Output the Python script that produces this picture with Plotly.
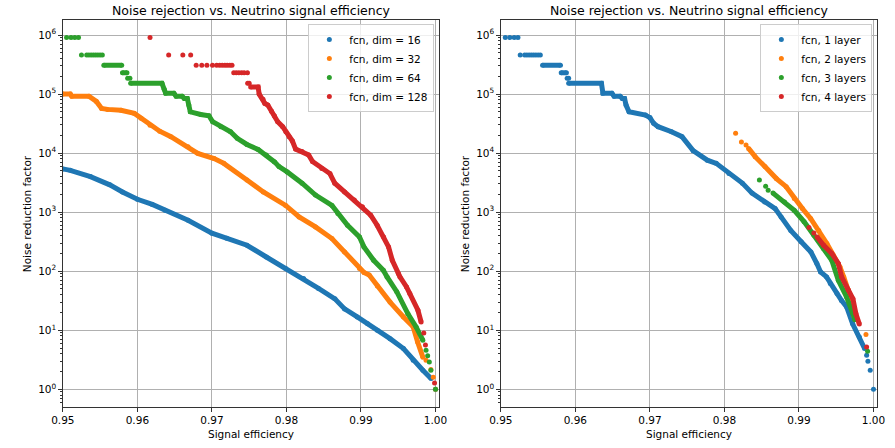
import plotly.graph_objects as go

N = None
TITLE = "Noise rejection vs. Neutrino signal efficiency"
XLABEL = "Signal efficiency"
YLABEL = "Noise reduction factor"
X_TICKS = [0.95, 0.96, 0.97, 0.98, 0.99, 1.00]
Y_EXPONENTS = [0, 1, 2, 3, 4, 5, 6]
COLORS = ["#1f77b4", "#ff7f0e", "#2ca02c", "#d62728"]

# ---------------- Left panel: hidden dimension ----------------
left_names = ["fcn, dim = 16", "fcn, dim = 32", "fcn, dim = 64", "fcn, dim = 128"]

# dense (continuous) stretches of each curve
d16_x = [0.9500, 0.9510, 0.9537, 0.9563, 0.9580, 0.9600, 0.9620, 0.9637, 0.9668, 0.9700, 0.9720,
         0.9747, 0.9773, 0.9799, 0.9823, 0.9843, 0.9865, 0.9878, 0.9895, 0.9909, 0.9922, 0.9939,
         0.9957, 0.9970, 0.9983, 0.9994]
d16_y = [5400, 5100, 4000, 2900, 2200, 1650, 1350, 1080, 730, 440, 360,
         275, 174, 111, 75, 51, 34, 23, 16.8, 12.9, 10, 7.2,
         4.9, 3.1, 2.1, 1.52]
d16_dot_x = [1.0]
d16_dot_y = [1.0]

d32_x = [0.9500, 0.9510, 0.9512, 0.9535, 0.9545, 0.9552, 0.9560, 0.9578, 0.9596, 0.9605, 0.9617,
         0.9630, 0.9645, 0.9668, 0.9681, 0.9703, 0.9716, 0.9747, 0.9769, 0.9799, 0.9817, 0.9839,
         0.9861, 0.9878, 0.9898, 0.9904, 0.9911, 0.9922, 0.9939, 0.9957, 0.9970, 0.9976, 0.9983]
d32_y = [1.0e5, 1.0e5, 9.2e4, 9.2e4, 7.5e4, 5.7e4, 5.5e4, 5.3e4, 4.7e4, 3.9e4, 2.97e4,
         2.35e4, 1.9e4, 1.28e4, 9.9e3, 8.1e3, 6.7e3, 3.5e3, 2.2e3, 1.3e3, 830, 562,
         357, 212, 111, 95, 86, 56, 30, 16.8, 11.4, 6.3, 3.5]
d32_dot_x = [0.99873, 0.99938, 0.99970, 1.0]
d32_dot_y = [3.1, 2.16, 1.6, 1.0]

d64_x = [0.9555, 0.9579, N, 0.9580, 0.9586, N, 0.9591, 0.9633, 0.9636, 0.9638, 0.9649, 0.9652,
         0.9660, 0.9663, 0.9667, 0.9669, 0.9671, 0.9685, 0.9696, 0.9701, 0.9712, 0.9725, 0.9734,
         0.9747, 0.9762, 0.9773, 0.9784, 0.9790, 0.9801, 0.9821, 0.9839, 0.9861, 0.9869, 0.9882,
         0.9898, 0.9904, 0.9917, 0.9930, 0.9935, 0.9948, 0.9963, 0.9974, 0.9983]
d64_y = [3.06e5, 3.06e5, N, 2.29e5, 2.29e5, N, 1.52e5, 1.52e5, 1.2e5, 1.03e5, 1.03e5, 9.2e4,
         9.2e4, 8.4e4, 8.4e4, 6.5e4, 5.0e4, 4.5e4, 4.3e4, 3.4e4, 2.8e4, 2.3e4, 1.78e4,
         1.4e4, 1.15e4, 9.3e3, 7.1e3, 5.9e3, 4.8e3, 3.1e3, 1.95e3, 1.3e3, 950, 600,
         380, 258, 153, 104, 80, 45, 19, 11.4, 6.8]
d64_dot_x = [0.9505, 0.9511, 0.9516, 0.9521,
             0.9525, 0.9532, 0.9535, 0.9538, 0.9541, 0.9544, 0.9547, 0.9550, 0.9553,
             0.9587, 0.9590,
             0.99873, 0.99895, 0.99917, 0.99938, 1.0]
d64_dot_y = [9.1e5, 9.1e5, 9.1e5, 9.1e5,
             4.6e5, 4.6e5, 4.6e5, 4.6e5, 4.6e5, 4.6e5, 4.6e5, 4.6e5, 4.6e5,
             1.85e5, 1.85e5,
             4.6, 3.7, 2.9, 2.1, 1.0]

d128_x = [0.9752, 0.9762, 0.97634, 0.97686, 0.9771, 0.9775, 0.9780, 0.97838, 0.97883, 0.97949,
          0.97992, 0.98036, 0.9808, 0.98123, 0.9821, 0.98298, 0.9835, 0.98474, 0.98583, 0.98648,
          0.9878, 0.98911, 0.9902, 0.9913, 0.99217, 0.99304, 0.9937, 0.9942, 0.99501, 0.99523,
          0.99611, 0.99655, 0.99764, 0.99807]
d128_y = [1.32e5, 1.32e5, 1.0e5, 8.2e4, 6.95e4, 6.5e4, 5.1e4, 4.27e4, 3.4e4, 2.8e4,
          2.3e4, 1.9e4, 1.6e4, 1.17e4, 1.06e4, 9.3e3, 7.2e3, 5.5e3, 4.5e3, 3.1e3,
          2.2e3, 1.6e3, 1.23e3, 890, 600, 380, 258, 153, 91, 80,
          54, 42, 21.8, 13.8]
d128_dot_x = [0.9617, 0.9642, 0.9661, 0.96715,
              0.96789, 0.96864, 0.96933, 0.97008, 0.97064, 0.97104, 0.97139, 0.97174, 0.97205,
              0.9724, 0.9727,
              0.97293, 0.97327, 0.97362, 0.97398, 0.97432, 0.97477,
              0.9748, 0.9750,
              0.99843, 0.99865, 0.99987]
d128_dot_y = [9.1e5, 4.6e5, 4.6e5, 4.6e5,
              3.06e5, 3.06e5, 3.06e5, 3.06e5, 3.06e5, 3.06e5, 3.06e5, 3.06e5, 3.06e5,
              3.06e5, 3.06e5,
              2.29e5, 2.29e5, 2.29e5, 2.29e5, 2.29e5, 2.29e5,
              1.52e5, 1.52e5,
              9.0, 5.6, 1.28]

# ---------------- Right panel: number of layers ----------------
right_names = ["fcn, 1 layer", "fcn, 2 layers", "fcn, 3 layers", "fcn, 4 layers"]

l1_x = [0.9556, 0.9580, N, 0.9581, 0.9588, N, 0.9591, 0.9635, 0.9637, 0.9649, 0.9652, 0.9660,
        0.9663, 0.9666, 0.9668, 0.9672, 0.9694, 0.9700, 0.9705, 0.9711, 0.9729, 0.9743, 0.9758,
        0.9777, 0.9789, 0.9806, 0.9824, 0.9837, 0.9854, 0.9868, 0.9876, 0.9889, 0.9903, 0.9916,
        0.9924, 0.9929, 0.9937, 0.9942, 0.9951, 0.9957, 0.9964, 0.9972, 0.9981, 0.9988]
l1_y = [3.06e5, 3.06e5, N, 2.29e5, 2.29e5, N, 1.52e5, 1.52e5, 1.03e5, 1.03e5, 9.2e4, 9.2e4,
        8.4e4, 8.4e4, 6.5e4, 5.0e4, 4.4e4, 4.0e4, 3.2e4, 2.8e4, 2.3e4, 1.9e4, 1.1e4,
        7.6e3, 6.7e3, 4.5e3, 3.1e3, 2.1e3, 1.49e3, 1.15e3, 830, 490, 316, 212,
        135, 97, 80, 62, 42, 32, 24.8, 12.9, 7.7, 4.9]
l1_dot_x = [0.9506, 0.9512, 0.9518, 0.9523,
            0.9526, 0.9532, 0.9535, 0.9538, 0.9541, 0.9544, 0.9547, 0.9550, 0.9553,
            0.9589, 0.9591,
            0.99908, 0.99925, 0.99956, 1.0]
l1_dot_y = [9.1e5, 9.1e5, 9.1e5, 9.1e5,
            4.6e5, 4.6e5, 4.6e5, 4.6e5, 4.6e5, 4.6e5, 4.6e5, 4.6e5, 4.6e5,
            1.85e5, 1.85e5,
            3.77, 2.98, 2.1, 1.0]

l2_x = [0.98324, 0.98412, 0.98543, 0.98697, 0.98828, 0.98937, 0.99046, 0.99156, 0.99265,
        0.99374, 0.99462, 0.9955, 0.9960, 0.9966, 0.9970, 0.9974]
l2_y = [1.2e4, 8.7e3, 5.9e3, 3.7e3, 2.7e3, 1.7e3, 1.15e3, 780, 490,
        295, 186, 118, 80, 48, 34, 17]
l2_dot_x = [0.98150, 0.98228, 0.98290, 0.99899]
l2_dot_y = [2.16e4, 1.54e4, 1.37e4, 8.5]

l3_x = [0.98652, 0.98806, 0.98937, 0.99068, 0.99200, 0.99331, 0.99440, 0.99528, 0.99637,
        0.99724, 0.99750]
l3_y = [2.1e3, 1.49e3, 1.07e3, 690, 407, 241, 153, 70, 37, 19, 15]
l3_dot_x = [0.98469, 0.98553, 0.98587, 0.99921]
l3_dot_y = [3.5e3, 2.75e3, 2.35e3, 4.4]

l4_x = [0.99243, 0.99331, 0.99440, 0.99528, 0.99572, 0.99660, 0.99724, 0.99764, 0.99810]
l4_y = [380, 275, 200, 135, 80, 48, 34, 19, 12.7]
l4_dot_x = [0.99134, 0.99200, 0.99908]
l4_dot_y = [550, 445, 5.2]

left_series = [(d16_x, d16_y, d16_dot_x, d16_dot_y), (d32_x, d32_y, d32_dot_x, d32_dot_y),
               (d64_x, d64_y, d64_dot_x, d64_dot_y), (d128_x, d128_y, d128_dot_x, d128_dot_y)]
right_series = [(l1_x, l1_y, l1_dot_x, l1_dot_y), (l2_x, l2_y, l2_dot_x, l2_dot_y),
                (l3_x, l3_y, l3_dot_x, l3_dot_y), (l4_x, l4_y, l4_dot_x, l4_dot_y)]

FONT = "DejaVu Sans"
W, H = 895, 448
MS = 5

fig = go.Figure()


def add_panel(series, names, xa, ya, legend):
    for (dx, dy, px, py), name, col in zip(series, names, COLORS):
        fig.add_trace(go.Scatter(x=dx, y=dy, mode="lines+markers", xaxis=xa, yaxis=ya,
                                 line=dict(color=col, width=5), marker=dict(color=col, size=MS),
                                 connectgaps=False, showlegend=False, hoverinfo="skip"))
        fig.add_trace(go.Scatter(x=px, y=py, mode="markers", xaxis=xa, yaxis=ya, name=name,
                                 marker=dict(color=col, size=MS), legend=legend))


add_panel(left_series, left_names, "x", "y", "legend")
add_panel(right_series, right_names, "x2", "y2", "legend2")

xl = [52, 437]
xr = [500, 885]
y_top, y_bot = 20, 407
ydom = [1 - y_bot / H, 1 - y_top / H]

y_tickvals = [10 ** e for e in Y_EXPONENTS]
y_ticktext = ["10<sup>%d</sup>" % e for e in Y_EXPONENTS]
y_minor = [m * 10 ** e for e in [-1] + Y_EXPONENTS for m in range(2, 10)]

axis_common = dict(showline=True, linecolor="#333", linewidth=1, mirror=True,
                   showgrid=True, gridcolor="#b0b0b0", gridwidth=0.8, zeroline=False,
                   ticks="outside", ticklen=3.5, tickcolor="#333",
                   tickfont=dict(family=FONT, size=10.5, color="black"))

xcommon = dict(axis_common, range=[0.95, 1.0005], tickvals=X_TICKS, tickformat=".2f")
ycommon = dict(axis_common, type="log", range=[-0.3, 6.254],
               tickmode="array", tickvals=y_tickvals, ticktext=y_ticktext,
               minor=dict(ticks="outside", ticklen=2, tickcolor="#333",
                          tickmode="array", tickvals=y_minor, showgrid=False))

fig.update_layout(
    width=W, height=H, margin=dict(l=0, r=0, t=0, b=0),
    paper_bgcolor="white", plot_bgcolor="white",
    font=dict(family=FONT, color="black", size=10.5),
    xaxis=dict(xcommon, domain=[xl[0] / W, xl[1] / W], anchor="y"),
    yaxis=dict(ycommon, domain=ydom, anchor="x"),
    xaxis2=dict(xcommon, domain=[xr[0] / W, xr[1] / W], anchor="y2"),
    yaxis2=dict(ycommon, domain=ydom, anchor="x2"),
    legend=dict(x=432 / W, y=1 - 24 / H, xanchor="right", yanchor="top",
                bgcolor="rgba(255,255,255,0.8)", bordercolor="#cccccc", borderwidth=1,
                font=dict(family=FONT, size=10.5), itemwidth=30, tracegroupgap=0),
    legend2=dict(x=880 / W, y=1 - 24 / H, xanchor="right", yanchor="top",
                 bgcolor="rgba(255,255,255,0.8)", bordercolor="#cccccc", borderwidth=1,
                 font=dict(family=FONT, size=10.5), itemwidth=30, tracegroupgap=0),
    showlegend=True,
)

annots = []
for xa in (xl, xr):
    cx = (xa[0] + xa[1]) / 2 / W
    annots.append(dict(text=TITLE, x=cx, y=1 - 10 / H, xref="paper", yref="paper",
                       showarrow=False, xanchor="center", yanchor="middle",
                       font=dict(family=FONT, size=12.5, color="black")))
    annots.append(dict(text=XLABEL, x=cx, y=1 - 434 / H, xref="paper", yref="paper",
                       showarrow=False, xanchor="center", yanchor="middle",
                       font=dict(family=FONT, size=10.5, color="black")))
    annots.append(dict(text=YLABEL, x=(xa[0] - 37) / W, y=(ydom[0] + ydom[1]) / 2,
                       xref="paper", yref="paper", showarrow=False, textangle=-90,
                       xanchor="center", yanchor="middle",
                       font=dict(family=FONT, size=10.5, color="black")))
fig.update_layout(annotations=annots)

fig.write_html("out.html")
